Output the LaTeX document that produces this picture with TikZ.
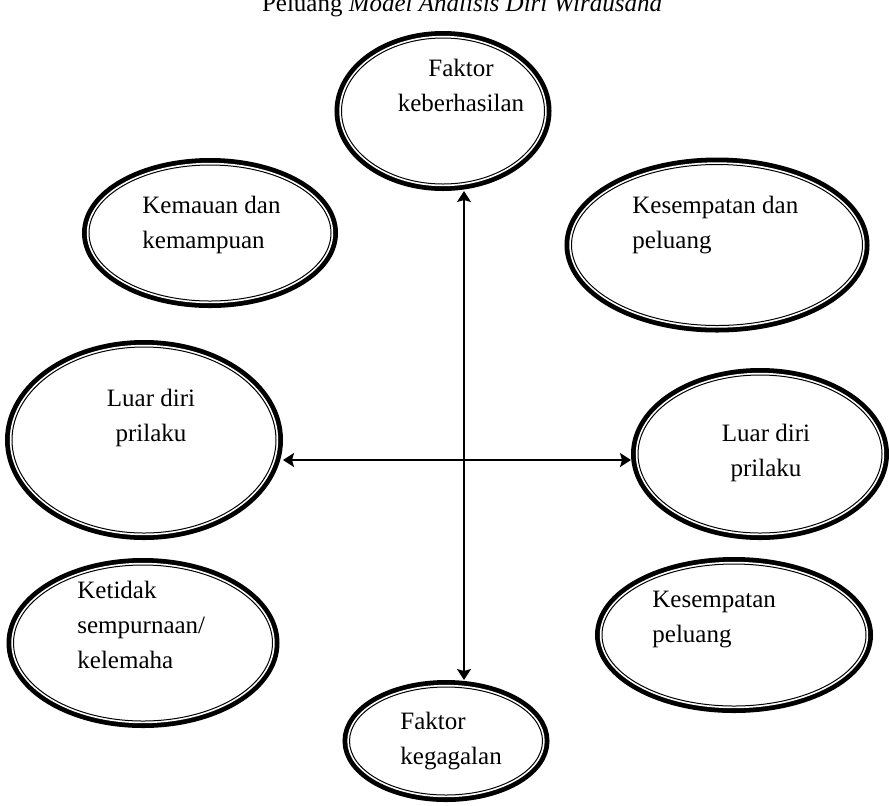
\documentclass[tikz,border=0pt]{standalone}
\usepackage{fontspec}
\setmainfont{Liberation Serif}
\usetikzlibrary{shapes.geometric, arrows.meta}

\begin{document}
\begin{tikzpicture}[x=0.5pt, y=-0.5pt,
    ring/.style={ellipse, draw, line width=0.5pt, fill=white, inner sep=0pt, outer sep=3.5pt,
      preaction={draw, line width=7pt}, preaction={draw=white, line width=2.2pt}},
    txt/.style={inner sep=0pt, font=\fontsize{12.5}{17.5}\selectfont},
    link/.style={line width=0.75pt, {Stealth[length=5.5pt, width=7pt, inset=1pt]}-{Stealth[length=5.5pt, width=7pt, inset=1pt]}}]
    \useasboundingbox (0,0) rectangle (889,805);

    % Title (cut at the top edge)
    \node[txt, anchor=base] (title) at (462,11) {Peluang \textit{Model Analisis Diri Wirausaha}};

    % Rings
    \node[ring, minimum width=101.5pt, minimum height=73pt] (keberhasilan) at (443,111) {};
    \node[ring, minimum width=121pt, minimum height=68pt] (kemauan) at (210,233) {};
    \node[ring, minimum width=145.5pt, minimum height=80.5pt] (kesempatan) at (717,245) {};
    \node[ring, minimum width=132pt, minimum height=93pt] (luarkiri) at (144,440) {};
    \node[ring, minimum width=122pt, minimum height=79pt] (luarkanan) at (760,454) {};
    \node[ring, minimum width=129.5pt, minimum height=78pt] (ketidak) at (143,643) {};
    \node[ring, minimum width=132pt, minimum height=71pt] (kespeluang) at (734,635) {};
    \node[ring, minimum width=96.5pt, minimum height=54pt] (kegagalan) at (446,741) {};

    % Texts
    \node[txt, anchor=north, align=center] (keberhasilan-t) at (461,59) {Faktor\\keberhasilan};
    \node[txt, anchor=north west, align=left] (kemauan-t) at (142,196) {Kemauan dan\\kemampuan};
    \node[txt, anchor=north west, align=left] (kesempatan-t) at (632,196) {Kesempatan dan\\peluang};
    \node[txt, anchor=north, align=center] (luarkiri-t) at (151,389) {Luar diri\\prilaku};
    \node[txt, anchor=north, align=center] (luarkanan-t) at (766,424) {Luar diri\\prilaku};
    \node[txt, anchor=north west, align=left] (ketidak-t) at (77,581) {Ketidak\\sempurnaan/\\kelemaha};
    \node[txt, anchor=north west, align=left] (kespeluang-t) at (652,591) {Kesempatan\\peluang};
    \node[txt, anchor=north west, align=left] (kegagalan-t) at (400,712) {Faktor\\kegagalan};

    % Axes
    \coordinate (cross) at (464,460);
    \draw[link] (cross |- keberhasilan.south) -- (cross |- kegagalan.north);
    \draw[link] (luarkiri.east |- cross) -- (luarkanan.west |- cross);
\end{tikzpicture}
\end{document}
